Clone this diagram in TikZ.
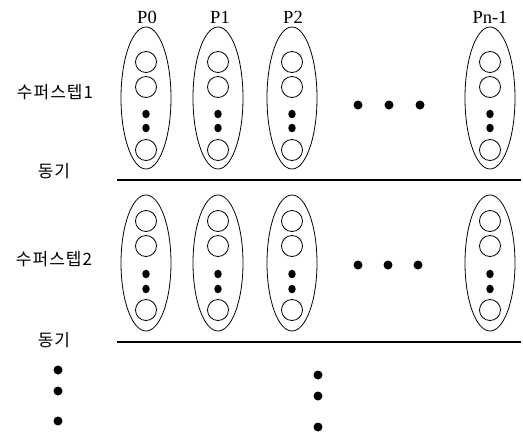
\documentclass[tikz,border=0pt]{standalone}
\usepackage{fontspec}
\setmainfont{Liberation Serif}
\newfontfamily\krfont[LetterSpace=6]{Noto Sans CJK KR}
\usetikzlibrary{shapes.geometric}
\begin{document}
\begin{tikzpicture}[x=1pt,y=-1pt,
  proc/.style={draw,ellipse,line width=0.8pt,minimum width=50pt,inner sep=0pt},
  slot/.style={draw,circle,line width=0.8pt,minimum size=21pt,inner sep=0pt},
  dot/.style={fill,ellipse,minimum width=7.5pt,minimum height=8.5pt,inner sep=0pt},
  bigdot/.style={fill,circle,minimum size=9pt,inner sep=0pt},
  plabel/.style={font=\fontsize{18.5}{20}\selectfont},
  klabel/.style={font=\krfont\fontsize{17}{19}\selectfont},
  barrier/.style={line width=1.3pt}]
\useasboundingbox (0,0) rectangle (523,432);

% processor headings
\node[plabel] (hp0) at (147,17) {P0};
\node[plabel] (hp1) at (220,17) {P1};
\node[plabel] (hp2) at (293,17) {P2};
\node[plabel] (hpn) at (490,17) {Pn-1};

% step labels
\node[klabel] (s1) at (55,92) {수퍼스텝1};
\node[klabel] (b1) at (54,171) {동기};
\node[klabel] (s2) at (54,259) {수퍼스텝2};
\node[klabel] (b2) at (54,340) {동기};

% processes of both supersteps
\foreach \name/\x in {a/146,b/218,c/292,d/490}{
  % superstep 1
  \node[proc,minimum height=142pt] (\name1) at (\x,98) {};
  \node[slot] (\name1c1) at (\x,62) {};
  \node[slot] (\name1c2) at (\x,87) {};
  \node[dot]  (\name1d1) at (\x,114) {};
  \node[dot]  (\name1d2) at (\x,128) {};
  \node[slot] (\name1c3) at (\x,150) {};
  % superstep 2
  \node[proc,minimum height=136pt] (\name2) at (\x,263) {};
  \node[slot] (\name2c1) at (\x,221) {};
  \node[slot] (\name2c2) at (\x,246) {};
  \node[dot]  (\name2d1) at (\x,274) {};
  \node[dot]  (\name2d2) at (\x,289) {};
  \node[slot] (\name2c3) at (\x,310) {};
}

% ellipsis between P2 and Pn-1
\node[bigdot] (h11) at (358,105) {};
\node[bigdot] (h12) at (389,105) {};
\node[bigdot] (h13) at (420,105) {};
\node[bigdot] (h21) at (358,265) {};
\node[bigdot] (h22) at (388,265) {};
\node[bigdot] (h23) at (418,265) {};

% synchronisation barriers
\coordinate (l1a) at (117,180);
\coordinate (l1b) at (521,180);
\coordinate (l2a) at (117,342);
\coordinate (l2b) at (521,342);
\draw[barrier] (l1a) -- (l1b);
\draw[barrier] (l2a) -- (l2b);

% further supersteps
\node[bigdot] (v1) at (58,370) {};
\node[bigdot] (v2) at (58,391) {};
\node[bigdot] (v3) at (58,421) {};
\node[bigdot] (w1) at (318,375) {};
\node[bigdot] (w2) at (318,396) {};
\node[bigdot] (w3) at (318,427) {};
\end{tikzpicture}
\end{document}
